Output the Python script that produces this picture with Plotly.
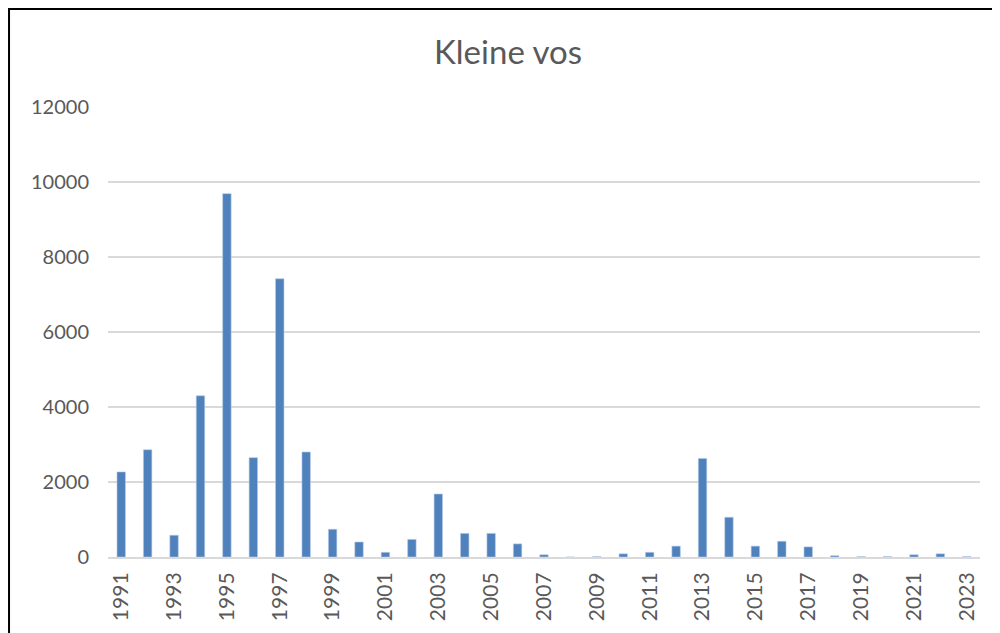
import plotly.graph_objects as go

years = list(range(1991, 2024))
counts = [2270, 2860, 580, 4300, 9690, 2650, 7420, 2800, 740, 400,
          125, 470, 1680, 630, 630, 350, 60, 0, 10, 85,
          125, 290, 2630, 1060, 290, 420, 270, 35, 10, 10,
          60, 85, 10]

title_text = "Kleine vos"
y_ticks = [0, 2000, 4000, 6000, 8000, 10000, 12000]

fig = go.Figure()
fig.add_trace(go.Bar(
    x=years, y=counts,
    marker=dict(color="#4F81BD", line=dict(color="#B9CDE5", width=0.6)),
    width=0.32,
))

# page has an 8px body margin, so everything is placed 8px up/left
fig.update_layout(
    width=1000, height=633,
    margin=dict(l=100, r=28, t=99, b=84, autoexpand=False),
    paper_bgcolor="white", plot_bgcolor="white",
    font=dict(family="Lato, Open Sans, sans-serif", color="#595959"),
    title=dict(text=title_text, x=0.5, xref="container", xanchor="center",
               y=0.930, yref="container", yanchor="middle",
               font=dict(size=33, color="#595959")),
    showlegend=False,
)

fig.update_xaxes(
    range=[1990.5, 2023.5], tickmode="linear", tick0=1991, dtick=2,
    tickangle=-90, tickfont=dict(size=21), ticklabelstandoff=5,
    showgrid=False, showline=True, linecolor="#D9D9D9", linewidth=2,
    ticks="", zeroline=False, automargin=False,
)
fig.update_yaxes(
    range=[0, 12000], tickvals=y_ticks, tickformat="d", tickfont=dict(size=20),
    ticklabelstandoff=18,
    showgrid=True, gridcolor="#D9D9D9", gridwidth=1.5,
    zeroline=False, showline=False, ticks="", automargin=False,
)

# chart-area border (Excel style), only left and top edges are on the page
fig.add_shape(type="rect", xref="paper", yref="paper",
              x0=-0.1135, x1=1.1, y0=-0.3, y1=1.2178,
              line=dict(color="black", width=2), fillcolor="rgba(0,0,0,0)")

fig.write_html("out.html")
